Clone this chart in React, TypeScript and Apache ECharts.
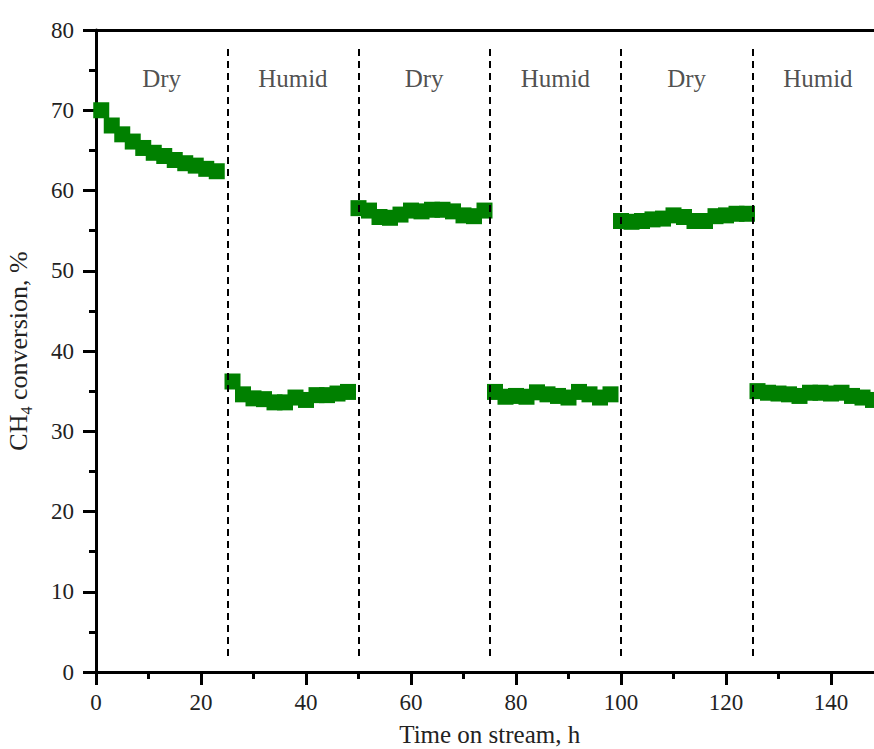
import React, { useEffect, useRef } from "react";
import * as echarts from "echarts";

// Time on stream (h) and CH4 conversion (%) for each period
const t1 = [1, 3, 5, 7, 9, 11, 13, 15, 17, 19, 21, 23];
const v1 = [70.0, 68.1, 67.0, 66.1, 65.3, 64.7, 64.3, 63.8, 63.4, 63.1, 62.7, 62.4];
const t2 = [26, 28, 30, 32, 34, 36, 38, 40, 42, 44, 46, 48];
const v2 = [36.2, 34.6, 34.1, 34.0, 33.6, 33.6, 34.2, 33.9, 34.5, 34.5, 34.7, 34.9];
const t3 = [50, 52, 54, 56, 58, 60, 62, 64, 66, 68, 70, 72, 74];
const v3 = [57.8, 57.5, 56.7, 56.6, 57.0, 57.5, 57.4, 57.6, 57.6, 57.4, 56.9, 56.8, 57.5];
const t4 = [76, 78, 80, 82, 84, 86, 88, 90, 92, 94, 96, 98];
const v4 = [34.9, 34.3, 34.4, 34.3, 34.85, 34.6, 34.4, 34.2, 34.9, 34.6, 34.2, 34.6];
const t5 = [100, 102, 104, 106, 108, 110, 112, 114, 116, 118, 120, 122, 124];
const v5 = [56.2, 56.1, 56.2, 56.4, 56.5, 56.9, 56.7, 56.2, 56.2, 56.8, 56.9, 57.1, 57.1];
const t6 = [126, 128, 130, 132, 134, 136, 138, 140, 142, 144, 146, 148];
const v6 = [35.0, 34.8, 34.7, 34.6, 34.4, 34.8, 34.8, 34.7, 34.8, 34.4, 34.2, 33.9];

const boundaries = [25, 50, 75, 100, 125];
const boundaryRange = [2, 78];
const regionLabels = ["Dry", "Humid", "Dry", "Humid", "Dry", "Humid"];
const regionCenters = [12.5, 37.5, 62.5, 87.5, 112.5, 137.5];
const regionLabelY = 74;

const FONT = "'Liberation Serif', 'DejaVu Serif', serif";
const GREEN = "#008000";

export default function App() {
  const ref = useRef<HTMLDivElement>(null);
  useEffect(() => {
    if (!ref.current) return;
    const chart = echarts.init(ref.current, null, { renderer: "svg" });
    const pts: number[][] = [];
    [[t1, v1], [t2, v2], [t3, v3], [t4, v4], [t5, v5], [t6, v6]].forEach(([ts, vs]) => {
      ts.forEach((t, i) => pts.push([t, vs[i]]));
    });
    const axisLine = { show: true, lineStyle: { color: "#000", width: 3 } };
    chart.setOption({
      animation: false,
      backgroundColor: "#fff",
      grid: { left: 96, top: 30, right: 16.5, bottom: 77, containLabel: false, outerBoundsMode: "none" },
      xAxis: [
        {
          type: "value",
          min: 0,
          max: 150,
          interval: 20,
          position: "bottom",
          axisLine,
          axisTick: { show: true, inside: false, length: 13, lineStyle: { width: 3, color: "#000" } },
          minorTick: { show: true, splitNumber: 2, length: 7, lineStyle: { width: 3, color: "#000" } },
          splitLine: { show: false },
          axisLabel: {
            fontFamily: FONT,
            fontSize: 23,
            color: "#222",
            margin: 19,
            showMaxLabel: false,
            formatter: (v: number) => (v > 140 ? "" : String(v)),
          },
          name: "Time on stream, h",
          nameLocation: "middle",
          nameGap: 50,
          nameTextStyle: { fontFamily: FONT, fontSize: 25, color: "#222" },
        },
        {
          type: "value",
          min: 0,
          max: 150,
          position: "top",
          axisLine,
          axisTick: { show: false },
          axisLabel: { show: false },
          splitLine: { show: false },
        },
      ],
      yAxis: {
        type: "value",
        min: 0,
        max: 80,
        interval: 10,
        axisLine,
        axisTick: { show: true, inside: false, length: 13, lineStyle: { width: 3, color: "#000" } },
        minorTick: { show: true, splitNumber: 2, length: 7, lineStyle: { width: 3, color: "#000" } },
        splitLine: { show: false },
        axisLabel: { fontFamily: FONT, fontSize: 23, color: "#222", margin: 22 },
        name: "{a|CH}{s|4}{a| conversion, %}",
        nameLocation: "middle",
        nameGap: 62,
        nameTextStyle: {
          fontFamily: FONT,
          fontSize: 26,
          color: "#222",
          rich: {
            a: { fontFamily: FONT, fontSize: 26, color: "#222", lineHeight: 32 },
            s: { fontFamily: FONT, fontSize: 16, color: "#222", lineHeight: 32, verticalAlign: "bottom" },
          },
        },
      },
      series: [
        {
          type: "scatter",
          symbol: "rect",
          symbolSize: 16,
          itemStyle: { color: GREEN, opacity: 1 },
          data: pts,
          z: 3,
          markLine: {
            silent: true,
            symbol: ["none", "none"],
            label: { show: false },
            lineStyle: { color: "#000", width: 2, type: [7, 5], opacity: 1 },
            data: boundaries.map((b) => [
              { coord: [b, boundaryRange[0]] },
              { coord: [b, boundaryRange[1]] },
            ]),
          },
        },
        {
          type: "scatter",
          symbolSize: 0,
          silent: true,
          data: regionCenters.map((c, i) => ({ value: [c, regionLabelY], name: regionLabels[i] })),
          label: {
            show: true,
            position: "inside",
            formatter: (p: any) => p.name,
            fontFamily: FONT,
            fontSize: 25,
            color: "#222",
          },
        },
      ],
    });
    return () => chart.dispose();
  }, []);
  return (
    <div style={{ position: "fixed", left: 0, top: 0, width: 874, height: 749, overflow: "hidden", background: "#fff" }}>
      <div ref={ref} style={{ width: 900, height: 749 }} />
    </div>
  );
}
